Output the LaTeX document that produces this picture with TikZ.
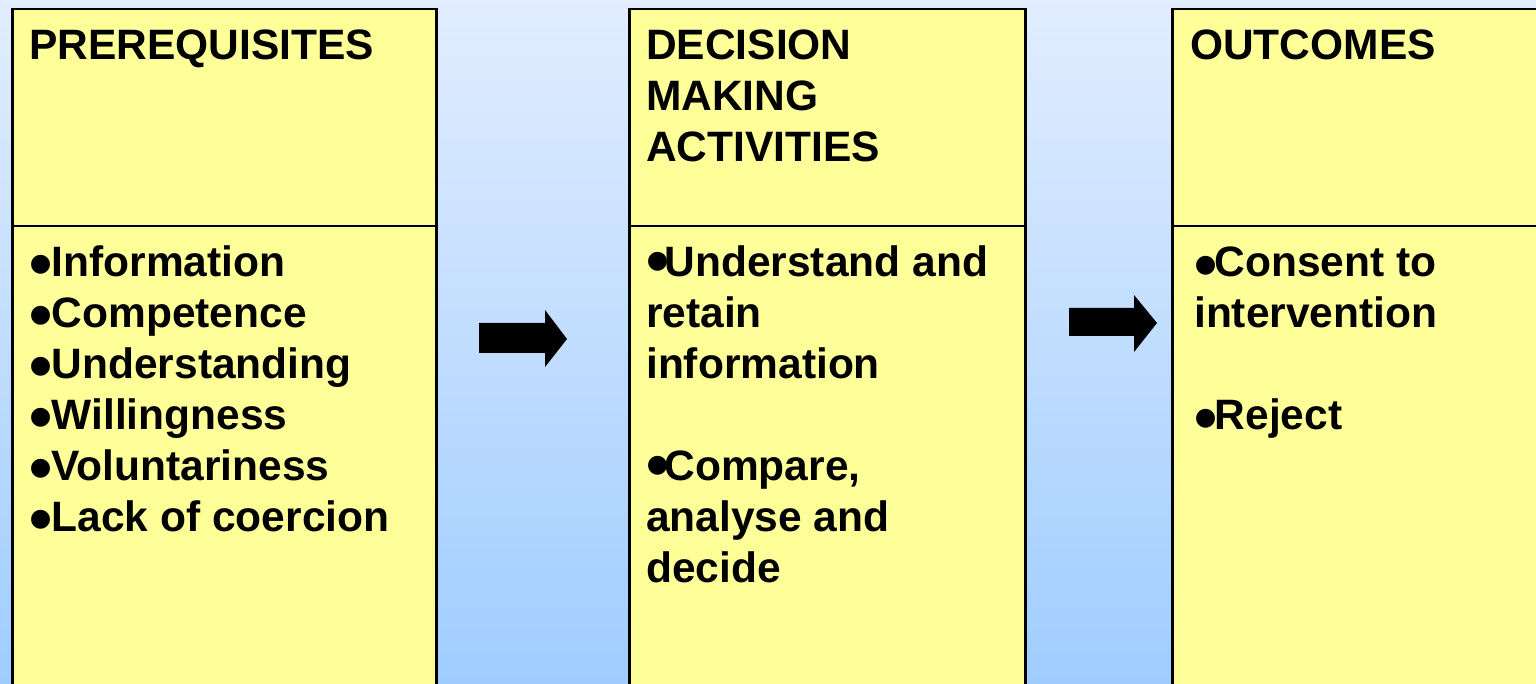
\documentclass[tikz,border=0pt]{standalone}
\usepackage{fontspec}
\setmainfont{Liberation Sans}
\definecolor{bgtop}{HTML}{E2EDFF}
\definecolor{bgbot}{HTML}{9FCDFF}
\definecolor{panelfill}{HTML}{FFFF99}
\tikzset{
  panel/.style={draw=black, line width=2.5pt, fill=panelfill, anchor=north west, inner sep=0pt},
  divider/.style={draw=black, line width=2.5pt},
  txt/.style={anchor=base west, inner sep=0pt, font=\fontsize{42.5}{51}\selectfont\bfseries},
  blockarrow/.style={fill=black}
}
% bullet: #1 = box width, #2 = raise
\newcommand{\mybul}[2]{\makebox[#1][l]{\raisebox{#2}{\scalebox{1.55}{\textbullet}}}}
\newcommand{\bla}{\mybul{22.5pt}{-9.8pt}}
\newcommand{\blb}{\mybul{18.3pt}{-6.6pt}}
\newcommand{\blc}{\mybul{20.5pt}{-10.2pt}}
\begin{document}
\begin{tikzpicture}[x=1pt,y=-1pt]
\useasboundingbox (0,0) rectangle (1536,684);
\clip (0,0) rectangle (1536,684);
\shade[top color=bgtop, bottom color=bgbot] (0,0) rectangle (1536,684);
% panels
\node[panel, minimum width=424pt, minimum height=720pt] (p1) at (11,8) {};
\node[panel, minimum width=396pt, minimum height=720pt] (p2) at (628,8) {};
\node[panel, minimum width=420pt, minimum height=720pt] (p3) at (1171,8) {};
\draw[divider] (11,226) -- (435,226);
\draw[divider] (628,226) -- (1024,226);
\draw[divider] (1171,226) -- (1591,226);
% headings
\node[txt] (h1) at (29,60) {PREREQUISITES};
\node[txt] (h2) at (646,60) {\begin{tabular}[t]{@{}l@{}}DECISION\\MAKING\\ACTIVITIES\end{tabular}};
\node[txt] (h3) at (1190,60) {OUTCOMES};
% bodies
\node[txt] (b1) at (29,277) {\begin{tabular}[t]{@{}l@{}}\bla Information\\\bla Competence\\\bla Understanding\\\bla Willingness\\\bla Voluntariness\\\bla Lack of coercion\end{tabular}};
\node[txt] (b2) at (646,277) {\begin{tabular}[t]{@{}l@{}}\blb Understand and\\retain\\information\\ \\\blb Compare,\\analyse and\\decide\end{tabular}};
\node[txt] (b3) at (1194,277) {\begin{tabular}[t]{@{}l@{}}\blc Consent to\\intervention\\ \\\blc Reject\end{tabular}};
% block arrows
\fill[blockarrow] (479,323) -- (545,323) -- (545,310) -- (567,339) -- (545,367) -- (545,353) -- (479,353) -- cycle;
\fill[blockarrow] (1069,308) -- (1134,308) -- (1134,295) -- (1157,323) -- (1134,352) -- (1134,336) -- (1069,336) -- cycle;
\end{tikzpicture}
\end{document}
